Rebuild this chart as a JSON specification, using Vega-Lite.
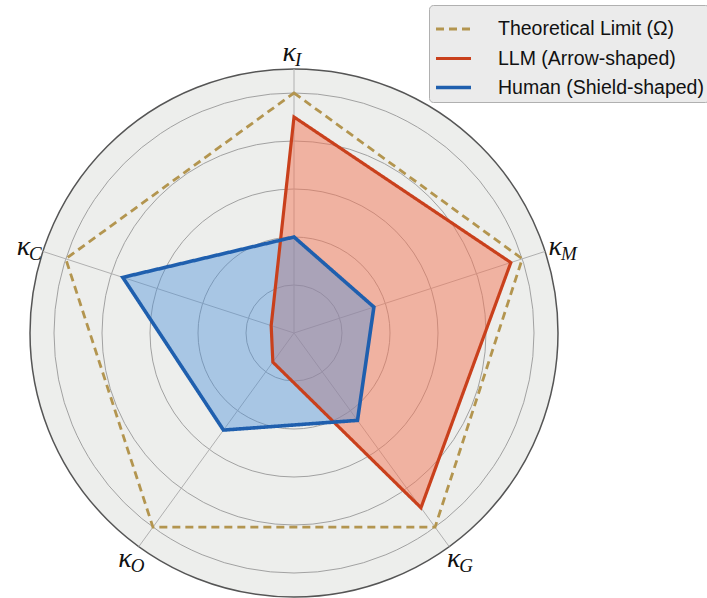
{
  "$schema": "https://vega.github.io/schema/vega-lite/v6.json",
  "width": 528,
  "height": 528,
  "autosize": "none",
  "padding": {"left": 30, "top": 69, "right": 149, "bottom": 1},
  "background": "white",
  "config": {
    "view": {"stroke": null},
    "legend": {
      "fillColor": "#ebebeb",
      "strokeColor": "#b0b0b0",
      "cornerRadius": 4,
      "padding": 5,
      "labelFontSize": 19.5,
      "labelFont": "Liberation Sans",
      "labelColor": "#111111",
      "labelOffset": 25,
      "symbolType": "stroke",
      "symbolSize": 1225,
      "symbolStrokeWidth": 3,
      "rowPadding": -18,
      "labelLimit": 400
    }
  },
  "datasets": {
    "axes": [
      {"axis": "I", "order": 0},
      {"axis": "M", "order": 1},
      {"axis": "G", "order": 2},
      {"axis": "O", "order": 3},
      {"axis": "C", "order": 4}
    ],
    "scores": [
      {"series": "Theoretical Limit (Ω)", "axis": "I", "value": 1.0},
      {"series": "Theoretical Limit (Ω)", "axis": "M", "value": 1.0},
      {"series": "Theoretical Limit (Ω)", "axis": "G", "value": 1.0},
      {"series": "Theoretical Limit (Ω)", "axis": "O", "value": 1.0},
      {"series": "Theoretical Limit (Ω)", "axis": "C", "value": 1.0},
      {"series": "LLM (Arrow-shaped)", "axis": "I", "value": 0.9},
      {"series": "LLM (Arrow-shaped)", "axis": "M", "value": 0.95},
      {"series": "LLM (Arrow-shaped)", "axis": "G", "value": 0.9},
      {"series": "LLM (Arrow-shaped)", "axis": "O", "value": 0.15},
      {"series": "LLM (Arrow-shaped)", "axis": "C", "value": 0.1},
      {"series": "Human (Shield-shaped)", "axis": "I", "value": 0.4},
      {"series": "Human (Shield-shaped)", "axis": "M", "value": 0.35},
      {"series": "Human (Shield-shaped)", "axis": "G", "value": 0.45},
      {"series": "Human (Shield-shaped)", "axis": "O", "value": 0.5},
      {"series": "Human (Shield-shaped)", "axis": "C", "value": 0.75}
    ]
  },
  "layer": [
    {
      "data": {"values": [{"r": 1.1, "cx": 0, "cy": 0}]},
      "mark": {"type": "point", "shape": "circle", "filled": true, "fill": "#edeeec", "stroke": "#555555", "strokeWidth": 1.5, "opacity": 1},
      "encoding": {
        "x": {"field": "cx", "type": "quantitative", "scale": {"domain": [-1.1, 1.1]}, "axis": null},
        "y": {"field": "cy", "type": "quantitative", "scale": {"domain": [-1.1, 1.1]}, "axis": null},
        "size": {"field": "r", "type": "quantitative", "scale": {"type": "pow", "exponent": 2, "domain": [0, 1.1], "range": [0, 278784]}, "legend": null}
      }
    },
    {
      "data": {"values": [{"r": 0.2, "cx": 0, "cy": 0}, {"r": 0.4, "cx": 0, "cy": 0}, {"r": 0.6, "cx": 0, "cy": 0}, {"r": 0.8, "cx": 0, "cy": 0}, {"r": 1.0, "cx": 0, "cy": 0}]},
      "mark": {"type": "point", "shape": "circle", "filled": false, "stroke": "#999999", "strokeWidth": 0.9, "opacity": 1},
      "encoding": {
        "x": {"field": "cx", "type": "quantitative", "scale": {"domain": [-1.1, 1.1]}, "axis": null},
        "y": {"field": "cy", "type": "quantitative", "scale": {"domain": [-1.1, 1.1]}, "axis": null},
        "size": {"field": "r", "type": "quantitative", "scale": {"type": "pow", "exponent": 2, "domain": [0, 1.1], "range": [0, 278784]}, "legend": null}
      }
    },
    {
      "data": {"name": "axes"},
      "transform": [
        {"calculate": "1.1*sin(datum.order*2*PI/5)", "as": "ex"},
        {"calculate": "1.1*cos(datum.order*2*PI/5)", "as": "ey"},
        {"calculate": "0", "as": "zero"}
      ],
      "mark": {"type": "rule", "stroke": "#b0b0b0", "strokeWidth": 1},
      "encoding": {
        "x": {"field": "zero", "type": "quantitative", "scale": {"domain": [-1.1, 1.1]}, "axis": null},
        "y": {"field": "zero", "type": "quantitative", "scale": {"domain": [-1.1, 1.1]}, "axis": null},
        "x2": {"field": "ex"},
        "y2": {"field": "ey"}
      }
    },
    {
      "data": {"name": "scores"},
      "transform": [
        {"lookup": "axis", "from": {"data": {"name": "axes"}, "key": "axis", "fields": ["order"]}},
        {"calculate": "datum.value*sin(datum.order*2*PI/5)", "as": "px"},
        {"calculate": "datum.value*cos(datum.order*2*PI/5)", "as": "py"}
      ],
      "mark": {"type": "line", "interpolate": "linear-closed", "strokeWidth": 0},
      "encoding": {
        "x": {"field": "px", "type": "quantitative", "scale": {"domain": [-1.1, 1.1]}, "axis": null},
        "y": {"field": "py", "type": "quantitative", "scale": {"domain": [-1.1, 1.1]}, "axis": null},
        "order": {"field": "order", "type": "quantitative"},
        "detail": {"field": "series", "type": "nominal"},
        "fill": {
          "field": "series", "type": "nominal",
          "scale": {"domain": ["LLM (Arrow-shaped)", "Human (Shield-shaped)", "Theoretical Limit (Ω)"], "range": ["rgba(244,118,86,0.5)", "rgba(74,144,217,0.42)", "rgba(0,0,0,0)"]},
          "legend": null
        }
      }
    },
    {
      "data": {"name": "scores"},
      "transform": [
        {"lookup": "axis", "from": {"data": {"name": "axes"}, "key": "axis", "fields": ["order"]}},
        {"calculate": "datum.value*sin(datum.order*2*PI/5)", "as": "px"},
        {"calculate": "datum.value*cos(datum.order*2*PI/5)", "as": "py"}
      ],
      "mark": {"type": "line", "interpolate": "linear-closed", "strokeJoin": "miter"},
      "encoding": {
        "x": {"field": "px", "type": "quantitative", "scale": {"domain": [-1.1, 1.1]}, "axis": null},
        "y": {"field": "py", "type": "quantitative", "scale": {"domain": [-1.1, 1.1]}, "axis": null},
        "order": {"field": "order", "type": "quantitative"},
        "stroke": {
          "field": "series", "type": "nominal",
          "scale": {"domain": ["Theoretical Limit (Ω)", "LLM (Arrow-shaped)", "Human (Shield-shaped)"], "range": ["#b3954f", "#c9401c", "#1f5fae"]},
          "legend": {"title": null, "orient": "none", "legendX": 399, "legendY": -64}
        },
        "strokeDash": {
          "field": "series", "type": "nominal",
          "scale": {"domain": ["Theoretical Limit (Ω)", "LLM (Arrow-shaped)", "Human (Shield-shaped)"], "range": [[8, 5], [1, 0], [1, 0]]},
          "legend": {"title": null, "orient": "none", "legendX": 399, "legendY": -64}
        },
        "strokeWidth": {
          "field": "series", "type": "nominal",
          "scale": {"domain": ["Theoretical Limit (Ω)", "LLM (Arrow-shaped)", "Human (Shield-shaped)"], "range": [2.8, 3.6, 2.6]},
          "legend": {"title": null, "orient": "none", "legendX": 399, "legendY": -64}
        }
      }
    },
    {
      "data": {"name": "axes"},
      "transform": [
        {"calculate": "1.165*sin(datum.order*2*PI/5)", "as": "lx"},
        {"calculate": "1.165*cos(datum.order*2*PI/5)", "as": "ly"}
      ],
      "mark": {"type": "text", "align": "right", "baseline": "middle", "dx": 2, "font": "Liberation Serif", "fontStyle": "italic", "fontSize": 28, "color": "#111111"},
      "encoding": {
        "x": {"field": "lx", "type": "quantitative", "scale": {"domain": [-1.1, 1.1]}, "axis": null},
        "y": {"field": "ly", "type": "quantitative", "scale": {"domain": [-1.1, 1.1]}, "axis": null},
        "text": {"value": "κ"}
      }
    },
    {
      "data": {"name": "axes"},
      "transform": [
        {"calculate": "1.165*sin(datum.order*2*PI/5)", "as": "lx"},
        {"calculate": "1.165*cos(datum.order*2*PI/5)", "as": "ly"}
      ],
      "mark": {"type": "text", "align": "left", "baseline": "middle", "dx": 1, "dy": 7, "font": "Liberation Serif", "fontStyle": "italic", "fontSize": 19, "color": "#111111"},
      "encoding": {
        "x": {"field": "lx", "type": "quantitative", "scale": {"domain": [-1.1, 1.1]}, "axis": null},
        "y": {"field": "ly", "type": "quantitative", "scale": {"domain": [-1.1, 1.1]}, "axis": null},
        "text": {"field": "axis", "type": "nominal"}
      }
    }
  ]
}
